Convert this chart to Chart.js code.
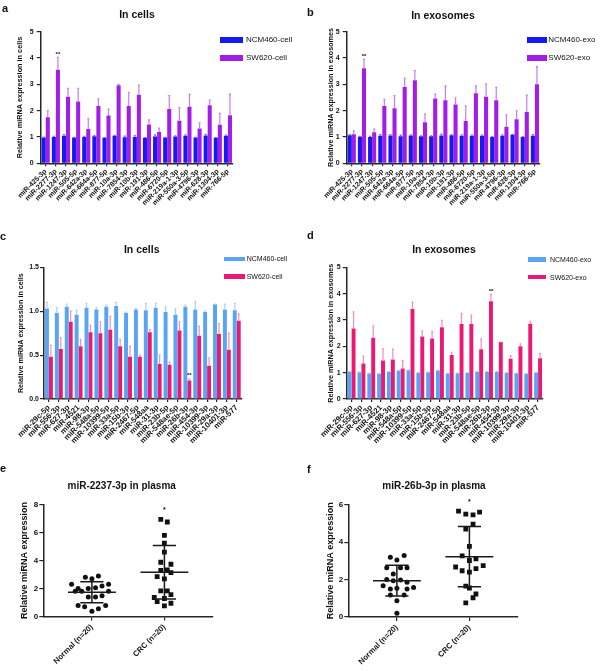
<!DOCTYPE html>
<html>
<head>
<meta charset="utf-8">
<script src="https://cdn.jsdelivr.net/npm/chart.js@4.4.1/dist/chart.umd.min.js"></script>
<style>
  body { margin: 0; background: #fff; width: 600px; height: 671px; position: relative; overflow: hidden;
         font-family: "Liberation Sans", Arial, sans-serif; color: #111; }
  canvas { position: absolute; }
  .txt { position: absolute; white-space: nowrap; line-height: 1; }
  .box { position: absolute; }
</style>
</head>
<body>
<canvas id="chartA" width="300" height="215" style="left:0;top:0"></canvas>
<canvas id="chartB" width="300" height="215" style="left:300px;top:0"></canvas>
<canvas id="chartC" width="300" height="230" style="left:0;top:220px"></canvas>
<canvas id="chartD" width="300" height="230" style="left:300px;top:220px"></canvas>
<canvas id="chartE" width="300" height="221" style="left:0;top:450px"></canvas>
<canvas id="chartF" width="300" height="221" style="left:300px;top:450px"></canvas>

<script>
// Datos del panel a / b (miRNA sobreexpresados)
const mirnasAB = ['miR-425-3p','miR-2277-3p','miR-1247-3p','miR-505-5p','miR-642a-3p','miR-664a-5p','miR-877-5p',
  'miR-10a-3p','miR-7854-3p','miR-10b-3p','miR-191-3p','miR-486-5p','miR-6720-5p','miR-219a-1-3p',
  'miR-550a-3-5p','miR-4796-3p','miR-628-3p','miR-1304-3p','miR-766-5p'];

const ncmCellA = [0.98,1.00,1.05,0.98,1.00,1.03,0.97,1.05,0.99,1.00,0.97,1.02,0.98,1.02,1.05,0.98,1.06,0.97,1.05];
const ncmCellAErr = [0.02,0.02,0.04,0.01,0.02,0.02,0.01,0.01,0.04,0.05,0.01,0.06,0.01,0.02,0.03,0.01,0.04,0.01,0.02];
const swCellA = [1.75,3.55,2.53,2.35,1.30,2.18,1.82,2.97,2.18,2.60,1.47,1.19,2.06,1.62,2.15,1.32,2.21,1.46,1.83];
const swCellAErr = [0.25,0.48,0.32,0.50,0.40,0.27,0.24,0.03,0.52,0.37,0.18,0.15,0.51,0.50,0.47,0.22,0.19,0.44,0.80];
const starsA = ['','**','','','','','','','','','','','','','','','','',''];

const ncmExoB = [1.07,1.01,1.00,1.05,1.06,1.03,1.06,1.03,1.03,1.06,1.07,1.05,1.05,1.05,1.00,1.05,1.08,1.00,1.05];
const ncmExoBErr = [0.02,0.01,0.02,0.04,0.03,0.04,0.02,0.01,0.01,0.05,0.02,0.03,0.02,0.02,0.01,0.03,0.02,0.01,0.04];
const swExoB = [1.10,3.61,1.18,2.18,2.09,2.90,3.16,1.56,2.46,2.40,2.23,1.61,2.66,2.53,2.40,1.39,1.67,1.95,3.00];
const swExoBErr = [0.13,0.34,0.12,0.25,0.48,0.33,0.36,0.31,0.17,0.54,0.26,0.57,0.28,0.48,0.49,0.45,0.32,0.64,0.67];
const starsB = ['','**','','','','','','','','','','','','','','','','',''];

// Datos del panel c / d
const mirnasCD = ['miR-29c-5p','miR-556-3p','miR-627-3p','miR-4521','miR-98-3p','miR-548a-5p','miR-10399-5p',
  'miR-33a-5p','miR-15b-3p','miR-2467-5p','miR-548aa','miR-31-3p','miR-23b-5p','miR-548ae-5p','miR-26b-3p',
  'miR-454-3p','miR-10399-3p','miR-29a-3p','miR-10401-3p','miR-577'];

const ncmCellC = [1.03,0.98,1.05,0.96,1.04,1.02,1.05,1.06,0.98,1.02,1.01,1.04,0.99,0.96,1.05,1.02,0.99,1.08,1.02,1.01];
const ncmCellCErr = [0.07,0.06,0.03,0.05,0.05,0.02,0.02,0.04,0.01,0.01,0.08,0.05,0.06,0.07,0.02,0.09,0.01,0.00,0.06,0.08];
const swCellC = [0.48,0.57,0.88,0.60,0.76,0.75,0.79,0.60,0.48,0.48,0.76,0.40,0.39,0.78,0.21,0.72,0.38,0.74,0.56,0.89];
const swCellCErr = [0.13,0.13,0.12,0.08,0.08,0.13,0.15,0.08,0.12,0.02,0.03,0.10,0.03,0.10,0.02,0.11,0.09,0.12,0.19,0.08];
const starsC = ['','','','','','','','','','','','','','','**','','','','',''];

const ncmExoD = [1.03,1.02,0.97,0.96,1.03,1.07,1.09,1.00,1.02,1.08,0.97,0.98,0.99,1.03,1.03,1.03,1.00,0.98,0.96,1.01];
const ncmExoDErr = [0.02,0.01,0.01,0.01,0.02,0.02,0.02,0.01,0.01,0.02,0.01,0.01,0.01,0.02,0.02,0.02,0.01,0.01,0.01,0.01];
const swExoD = [2.68,1.35,2.33,1.46,1.50,1.16,3.42,2.37,2.30,2.72,1.67,2.85,2.85,1.89,3.71,2.16,1.53,2.00,2.86,1.55];
const swExoDErr = [0.63,0.28,0.45,0.44,0.39,0.30,0.26,0.22,0.27,0.27,0.10,0.40,0.34,0.39,0.26,0.00,0.12,0.09,0.09,0.18];
const starsD = ['','','','','','','','','','','','','','','**','','','','',''];

// Datos de plasma (e / f)
const grupos = ['Normal (n=20)', 'CRC (n=20)'];

const normalEX = [0.91,1.00,1.09,0.72,1.23,0.81,0.95,1.05,1.14,0.77,0.86,1.23,0.95,1.05,1.14,0.81,0.90,1.19,1.09,1.00];
const normalEY = [2.81,2.71,2.90,2.31,2.31,2.00,2.00,2.05,2.19,1.81,1.81,1.81,1.40,1.40,1.48,0.79,0.69,0.79,0.55,0.38];
const crcEX = [1.95,2.04,2.00,2.00,2.00,1.95,2.09,1.95,2.04,2.09,1.90,2.00,1.95,2.04,2.09,1.86,2.00,1.90,2.09,2.00];
const crcEY = [6.95,6.76,5.81,5.24,4.60,3.88,3.74,3.29,3.33,3.14,2.86,2.69,1.83,1.83,1.57,1.36,1.29,1.07,0.95,0.76];
const mediaE = [1.74, 3.17];
const sdE = [0.75, 1.91];
const starsE = ['', '*'];

const normalFX = [0.91,1.00,1.10,0.86,1.05,1.14,0.95,0.86,0.95,1.05,1.14,0.81,0.91,1.00,1.14,1.23,0.91,1.10,1.00,1.00];
const normalFY = [3.19,3.04,3.29,2.63,2.63,2.63,2.30,2.01,1.94,1.98,1.85,1.67,1.49,1.53,1.49,1.57,1.17,1.17,0.87,0.20];
const crcFX = [1.85,1.95,2.05,2.14,2.05,1.95,2.00,1.90,2.00,2.09,1.81,1.90,2.00,2.09,2.19,1.95,2.00,2.09,2.05,1.95];
const crcFY = [5.66,5.50,5.46,5.60,4.96,4.70,3.77,3.27,3.02,3.11,2.67,2.47,2.40,2.58,2.74,1.65,1.55,1.23,1.03,0.75];
const mediaF = [1.94, 3.22];
const sdF = [0.82, 1.61];
const starsF = ['', '*'];

const FONT = '"Liberation Sans", Arial, sans-serif';
const ejeColor = '#262626';
Chart.defaults.font.family = FONT;
Chart.defaults.color = '#111';
Chart.defaults.animation = false;

// Barras de error (solo hacia arriba) y asteriscos
const barrasError = {
    id: 'barrasError',
    afterDatasetsDraw(chart) {
        const ctx = chart.ctx;
        const y = chart.scales.y;
        chart.data.datasets.forEach((ds, i) => {
            const meta = chart.getDatasetMeta(i);
            ctx.save();
            ctx.strokeStyle = ds.errorColor;
            ctx.lineWidth = 1.2;
            meta.data.forEach((bar, j) => {
                const top = y.getPixelForValue(ds.data[j] + ds.errors[j]);
                const half = bar.width * 0.25;
                ctx.beginPath();
                ctx.moveTo(bar.x, bar.y);
                ctx.lineTo(bar.x, top);
                ctx.moveTo(bar.x - half, top);
                ctx.lineTo(bar.x + half, top);
                ctx.stroke();
                if (ds.stars && ds.stars[j]) {
                    ctx.fillStyle = '#111';
                    ctx.font = 'bold 6px ' + FONT;
                    ctx.textAlign = 'center';
                    ctx.textBaseline = 'middle';
                    ctx.fillText(ds.stars[j], bar.x, top - 3);
                }
            });
            ctx.restore();
        });
    }
};

function ejeY(max, step, dec, ancho, titulo, padTitulo, tamTick, tamTitulo, padTick) {
    return {
        min: 0,
        max: max,
        ticks: {
            stepSize: step,
            padding: padTick,
            color: '#111',
            font: { size: tamTick, weight: 'bold' },
            callback: v => Number(v).toFixed(dec)
        },
        grid: { drawOnChartArea: false, tickLength: 4, color: ejeColor, lineWidth: 1.2 },
        border: { color: ejeColor, width: 1.5 },
        title: {
            display: true,
            text: titulo,
            color: '#111',
            font: { size: tamTitulo, weight: 'bold' },
            padding: { top: padTitulo, bottom: 0 }
        },
        afterFit: s => { s.width = ancho; }
    };
}

function graficoBarras(id, labels, series, eje, pad, altoX, tamX) {
    new Chart(document.getElementById(id), {
        type: 'bar',
        data: {
            labels: labels,
            datasets: series.map(s => ({
                label: s.label,
                data: s.data,
                errors: s.errors,
                errorColor: s.errorColor,
                stars: s.stars,
                backgroundColor: s.color,
                borderWidth: 0,
                categoryPercentage: 0.8,
                barPercentage: 1.0
            }))
        },
        options: {
            responsive: false,
            layout: { padding: pad },
            plugins: { legend: { display: false }, tooltip: { enabled: false } },
            scales: {
                x: {
                    offset: true,
                    ticks: {
                        autoSkip: false, minRotation: 45, maxRotation: 45, padding: 1,
                        color: '#111', font: { size: tamX, weight: 'bold' }
                    },
                    grid: { offset: false, drawOnChartArea: false, tickLength: 3, color: ejeColor, lineWidth: 1.2 },
                    border: { color: ejeColor, width: 1.5 },
                    afterFit: s => { s.height = altoX; }
                },
                y: eje
            }
        },
        plugins: [barrasError]
    });
}

// Media y desviación estándar en los gráficos de dispersión
function resumen(medias, sds, estrellas, maximos) {
    return {
        id: 'resumen',
        afterDatasetsDraw(chart) {
            const { ctx, scales: { x, y } } = chart;
            ctx.save();
            ctx.strokeStyle = '#1a1a1a';
            ctx.lineWidth = 1.5;
            medias.forEach((m, i) => {
                const cx = i + 1;
                const linea = (v, hw) => {
                    ctx.moveTo(x.getPixelForValue(cx - hw), y.getPixelForValue(v));
                    ctx.lineTo(x.getPixelForValue(cx + hw), y.getPixelForValue(v));
                };
                ctx.beginPath();
                linea(m, 0.33);
                linea(m + sds[i], 0.16);
                linea(m - sds[i], 0.16);
                ctx.moveTo(x.getPixelForValue(cx), y.getPixelForValue(m - sds[i]));
                ctx.lineTo(x.getPixelForValue(cx), y.getPixelForValue(m + sds[i]));
                ctx.stroke();
                if (estrellas[i]) {
                    ctx.fillStyle = '#111';
                    ctx.font = 'bold 7px ' + FONT;
                    ctx.textAlign = 'center';
                    ctx.textBaseline = 'middle';
                    ctx.fillText(estrellas[i], x.getPixelForValue(cx), y.getPixelForValue(maximos[i]) - 9);
                }
            });
            ctx.restore();
        }
    };
}

function graficoPuntos(id, normalX, normalY, crcX, crcY, medias, sds, estrellas, yMax, pad, anchoY, altoX, padTitulo) {
    const puntos = (xs, ys) => xs.map((v, i) => ({ x: v, y: ys[i] }));
    new Chart(document.getElementById(id), {
        type: 'scatter',
        data: {
            datasets: [
                { label: grupos[0], data: puntos(normalX, normalY), pointStyle: 'circle', pointRadius: 2.5,
                  backgroundColor: '#111', borderWidth: 0 },
                { label: grupos[1], data: puntos(crcX, crcY), pointStyle: 'rect', pointRadius: 3.4,
                  backgroundColor: '#111', borderWidth: 0 }
            ]
        },
        options: {
            responsive: false,
            layout: { padding: pad },
            plugins: { legend: { display: false }, tooltip: { enabled: false } },
            scales: {
                x: {
                    type: 'linear',
                    min: 0.33,
                    max: 2.67,
                    afterBuildTicks: s => { s.ticks = [{ value: 1 }, { value: 2 }]; },
                    ticks: {
                        autoSkip: false, minRotation: 45, maxRotation: 45, padding: 2,
                        color: '#111', font: { size: 7.8, weight: 'bold' },
                        callback: (v, i) => grupos[i]
                    },
                    grid: { drawOnChartArea: false, tickLength: 4, color: ejeColor, lineWidth: 1.2 },
                    border: { color: ejeColor, width: 1.5 },
                    afterFit: s => { s.height = altoX; }
                },
                y: ejeY(yMax, 2, 0, anchoY, 'Relative miRNA expression', padTitulo, 8, 9, 1)
            }
        },
        plugins: [resumen(medias, sds, estrellas, [Math.max(...normalY), Math.max(...crcY)])]
    });
}

// Panel a
graficoBarras('chartA', mirnasAB, [
    { label: 'NCM460-cell', data: ncmCellA, errors: ncmCellAErr, color: '#1818f2', errorColor: '#6a6af5' },
    { label: 'SW620-cell', data: swCellA, errors: swCellAErr, color: '#a21ee6', errorColor: '#c77cee', stars: starsA }
], ejeY(5, 1, 0, 40.7, 'Relative miRNA expression in cells', 15.6, 7, 7.3, 3),
   { left: 0, right: 67, top: 31.7, bottom: 0 }, 51.7, 7);

// Panel b
graficoBarras('chartB', mirnasAB, [
    { label: 'NCM460-exo', data: ncmExoB, errors: ncmExoBErr, color: '#1818f2', errorColor: '#6a6af5' },
    { label: 'SW620-exo', data: swExoB, errors: swExoBErr, color: '#a21ee6', errorColor: '#c77cee', stars: starsB }
], ejeY(5, 1, 0, 46.7, 'Relative miRNA expression in exosomes', 26.6, 7, 7.2, 3),
   { left: 0, right: 60, top: 31.7, bottom: 0 }, 51.7, 7);

// Panel c
graficoBarras('chartC', mirnasCD, [
    { label: 'NCM460-cell', data: ncmCellC, errors: ncmCellCErr, color: '#5aa5f3', errorColor: '#a9cff8' },
    { label: 'SW620-cell', data: swCellC, errors: swCellCErr, color: '#ea1a74', errorColor: '#f08fb8', stars: starsC }
], ejeY(1.5, 0.5, 1, 44, 'Relative miRNA expression in cells', 16.3, 7, 7.2, 1),
   { left: 0, right: 58.3, top: 47.3, bottom: 0 }, 51, 7.8);

// Panel d
graficoBarras('chartD', mirnasCD, [
    { label: 'NCM460-exo', data: ncmExoD, errors: ncmExoDErr, color: '#5aa5f3', errorColor: '#a9cff8' },
    { label: 'SW620-exo', data: swExoD, errors: swExoDErr, color: '#ea1a74', errorColor: '#f08fb8', stars: starsD }
], ejeY(5, 1, 0, 46.7, 'Relative miRNA expression in exosomes', 26.3, 7, 7.2, 2),
   { left: 0, right: 57, top: 47.3, bottom: 0 }, 51, 7.8);

// Paneles e y f
graficoPuntos('chartE', normalEX, normalEY, crcEX, crcEY, mediaE, sdE, starsE, 8,
    { left: 0, right: 87, top: 54.7, bottom: 0 }, 43.3, 54.5, 19.6);
graficoPuntos('chartF', normalFX, normalFY, crcFX, crcFY, mediaF, sdF, starsF, 6,
    { left: 0, right: 82, top: 54.7, bottom: 0 }, 48.3, 54, 25.3);

// Textos: letras de panel, títulos y leyendas
function texto(x, base, str, size, weight, centrado) {
    const d = document.createElement('div');
    d.className = 'txt';
    d.textContent = str;
    d.style.fontSize = size + 'px';
    d.style.fontWeight = weight;
    d.style.top = (base - 0.8465 * size) + 'px';
    d.style.left = x + 'px';
    if (centrado) d.style.transform = 'translateX(-50%)';
    document.body.appendChild(d);
}

function caja(x, yc, w, h, color) {
    const d = document.createElement('div');
    d.className = 'box';
    d.style.left = x + 'px';
    d.style.top = (yc - h / 2) + 'px';
    d.style.width = w + 'px';
    d.style.height = h + 'px';
    d.style.background = color;
    document.body.appendChild(d);
}

texto(2, 12, 'a', 11, 'bold');
texto(307, 16.7, 'b', 11, 'bold');
texto(0, 240, 'c', 11, 'bold');
texto(307, 239.3, 'd', 11, 'bold');
texto(0, 472.7, 'e', 11, 'bold');
texto(307, 473, 'f', 11, 'bold');

texto(137, 18.3, 'In cells', 10.5, 'bold', true);
texto(443, 18.5, 'In exosomes', 10.5, 'bold', true);
texto(141.7, 253.3, 'In cells', 10.5, 'bold', true);
texto(444, 253.3, 'In exosomes', 10.5, 'bold', true);
texto(121.7, 489.5, 'miR-2237-3p in plasma', 10, 'bold', true);
texto(434, 489.2, 'miR-26b-3p in plasma', 10, 'bold', true);

caja(220, 40.3, 23, 6, '#1818f2');  texto(246, 43.2, 'NCM460-cell', 8, 'normal');
caja(220, 58, 23, 6, '#a21ee6');    texto(246, 61, 'SW620-cell', 8, 'normal');
caja(526.7, 40.3, 20, 6, '#1818f2'); texto(548.3, 43.2, 'NCM460-exo', 8, 'normal');
caja(526.7, 58, 20, 6, '#a21ee6');   texto(548.3, 61, 'SW620-exo', 8, 'normal');
caja(224, 258.8, 21, 4.5, '#5aa5f3'); texto(246.7, 261.3, 'NCM460-cell', 7, 'normal');
caja(224, 276.3, 21, 4.5, '#ea1a74'); texto(246.7, 278.8, 'SW620-cell', 7, 'normal');
caja(527.7, 259.3, 18, 4.5, '#5aa5f3'); texto(550, 261.8, 'NCM460-exo', 7, 'normal');
caja(527.7, 277, 18, 4.5, '#ea1a74');   texto(550, 279.5, 'SW620-exo', 7, 'normal');
</script>
</body>
</html>
